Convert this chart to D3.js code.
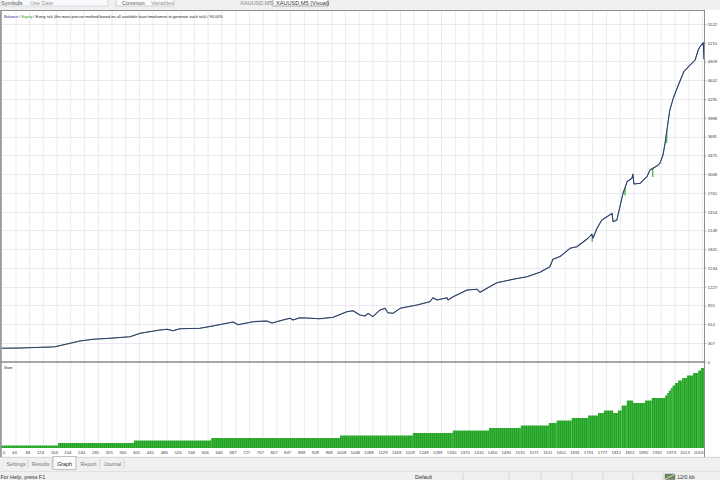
<!DOCTYPE html>
<html><head><meta charset="utf-8">
<script src="https://cdn.jsdelivr.net/npm/d3@7"></script>
<style>
body{margin:0;background:#fff;}
svg{display:block;font-family:"Liberation Sans",Arial,sans-serif;}
</style>
</head><body>
<svg id="c" width="720" height="480"></svg>
<script>
// ---------- DATA ----------
const totalTrades = 2057;
const tradeIdx = [0,56,144,158,231,269,319,378,407,465,486,503,524,582,620,679,694,737,778,793,825,846,854,875,933,972,1012,1030,1050,1065,1074,1088,1109,1124,1132,1147,1168,1217,1255,1264,1276,1305,1308,1323,1364,1393,1402,1422,1451,1498,1539,1577,1606,1615,1636,1665,1685,1715,1729,1732,1744,1758,1773,1788,1791,1802,1811,1820,1832,1846,1849,1852,1870,1890,1899,1919,1928,1937,1943,1957,1967,1982,1992,1998,2016,2031,2040,2045,2055,2057];
const balance = [219,224,240,244,338,366,383,409,464,518,530,507,540,546,584,649,605,654,665,633,682,710,682,719,703,726,818,834,764,747,791,736,845,873,801,791,873,927,981,1046,1009,1046,1009,1063,1172,1184,1135,1200,1292,1347,1390,1462,1553,1674,1720,1854,1880,2006,2088,2018,2181,2317,2371,2426,2289,2317,2534,2753,2943,2999,3069,2905,2917,3025,3134,3200,3244,3380,3571,4115,4307,4524,4660,4742,4851,4933,5096,5150,5216,4944];
// extra equity readings where equity departs from balance
const equityIdx = [1729.6,1730,1730.4,1825,1826,1827,1906,1907,1908,1947,1948,1949];
const equityVal = [2080,1960,2030,2832,2720,2864,3160,3020,3165,3727,3580,3804];
// lot size steps (start trade index, lot)
const sizeStepIdx = [0,167,389,615,992,1205,1322,1428,1521,1603,1626,1670,1718,1747,1764,1791,1805,1816,1831,1849,1884,1904,1943,1949,1954,1960,1965,1972,1981,1993,2007,2025,2040,2048];
const sizeStepLot = [0.01,0.02,0.03,0.04,0.05,0.06,0.07,0.08,0.09,0.10,0.11,0.12,0.13,0.14,0.15,0.14,0.15,0.17,0.19,0.18,0.19,0.20,0.21,0.22,0.23,0.24,0.25,0.26,0.27,0.28,0.29,0.30,0.31,0.32];
const yTickLabels = [0,307,614,920,1227,1534,1841,2148,2454,2761,3068,3375,3681,3988,4295,4602,4909,5215,5522];
const xTickLabels = [0,44,84,124,164,204,244,285,325,365,405,445,486,526,566,606,646,687,727,767,807,847,888,928,968,1008,1048,1088,1129,1169,1209,1249,1289,1330,1370,1410,1450,1490,1531,1571,1611,1651,1691,1731,1772,1812,1852,1892,1932,1973,2013,2053];
const titleParts = [["Balance","#2a2a9a"],[" / ","#222"],["Equity","#1f9a1f"],[" / Every tick (the most precise method based on all available least timeframes to generate each tick) / 90.00%","#222"]];
const tabNames = ["Settings","Results","Graph","Report","Journal"];

// ---------- LAYOUT ----------
const svg = d3.select("#c");
const L = 1.5, R = 704, T = 11, MID = 362, BOT = 448;
const x = d3.scaleLinear().domain([0, totalTrades]).range([0.96, 704]);
const y = d3.scaleLinear().domain([0, 5522]).range([361.7, 24.0]);
const yS = d3.scaleLinear().domain([0, 0.344]).range([BOT, MID]);

const defs = svg.append("defs");
defs.append("clipPath").attr("id","cu").append("rect").attr("x",L).attr("y",T).attr("width",R-L).attr("height",MID-T);
const pat = defs.append("pattern").attr("id","bp").attr("width",2).attr("height",10).attr("patternUnits","userSpaceOnUse");
pat.append("rect").attr("width",2).attr("height",10).attr("fill","#35b535");
pat.append("rect").attr("width",0.6).attr("height",10).attr("fill","#1e901e");

svg.append("rect").attr("width",720).attr("height",480).attr("fill","#fff");

// top strip (cropped UI)
const topG = svg.append("g");
topG.append("rect").attr("x",0).attr("y",0).attr("width",720).attr("height",10).attr("fill","#f0f0f0");
topG.append("rect").attr("x",0).attr("y",-2).attr("width",108).attr("height",8).attr("fill","#f7f9fc").attr("stroke","#c8c8c8").attr("stroke-width",0.6);
topG.append("rect").attr("x",116).attr("y",-2).attr("width",58).attr("height",8).attr("fill","#fafafa").attr("stroke","#b8b8b8").attr("stroke-width",0.6);
topG.append("rect").attr("x",273).attr("y",-3).attr("width",55).attr("height",9).attr("fill","#fff").attr("stroke","#8a8a8a").attr("stroke-width",0.7);
topG.append("line").attr("x1",18.5).attr("x2",18.5).attr("y1",0).attr("y2",6).attr("stroke","#aaa").attr("stroke-width",0.6);
const topTexts = [["Symbols",1,"#555"],["Use Date",30,"#999"],["Common",122,"#555"],["Variables",151,"#999"],["XAUUSD,M5",240,"#888"],["XAUUSD,M5 (Visual)",276,"#333"]];
topTexts.forEach(t=>topG.append("text").attr("x",t[1]).attr("y",4.6).attr("font-size",5.6).attr("fill",t[2]).text(t[0]));

// upper plot grid
const up = svg.append("g");
up.append("rect").attr("x",L).attr("y",T).attr("width",R-L).attr("height",MID-T).attr("fill","#fff");
up.selectAll("line.hg").data(yTickLabels.slice(1)).join("line").attr("class","hg")
  .attr("x1",L).attr("x2",R).attr("y1",d=>Math.round(y(d))+0.5).attr("y2",d=>Math.round(y(d))+0.5)
  .attr("stroke","#e4e4ec").attr("stroke-width",0.8);
up.selectAll("line.vg").data(xTickLabels.slice(1)).join("line").attr("class","vg")
  .attr("x1",d=>x(d)).attr("x2",d=>x(d)).attr("y1",T).attr("y2",MID)
  .attr("stroke","#e4e4ec").attr("stroke-width",0.8);

// lines
const balPts = tradeIdx.map((t,i)=>[t,balance[i]]);
const eqPts = balPts.concat(equityIdx.map((t,i)=>[t,equityVal[i]])).sort((a,b)=>a[0]-b[0]);
const line = d3.line().x(d=>x(d[0])).y(d=>y(d[1]));
const lg = svg.append("g").attr("clip-path","url(#cu)");
lg.append("path").attr("d",line(eqPts)).attr("fill","none").attr("stroke","#5fb35f").attr("stroke-width",1.0);
lg.append("path").attr("d",line(balPts)).attr("fill","none").attr("stroke","#333a78").attr("stroke-width",1.05).attr("stroke-linejoin","round");

// title (font sized to fit the reference width)
const tt = svg.append("text").attr("x",4).attr("y",17.5).attr("font-size",4.4);
titleParts.forEach(p=>tt.append("tspan").attr("fill",p[1]).text(p[0]));
const tw = tt.node().getComputedTextLength();
if (tw > 0) tt.attr("font-size", 4.4 * 219 / tw);

// lower plot
const lo = svg.append("g");
lo.selectAll("line.vg2").data(xTickLabels.slice(1)).join("line").attr("class","vg2")
  .attr("x1",d=>x(d)).attr("x2",d=>x(d)).attr("y1",MID).attr("y2",BOT)
  .attr("stroke","#e4e4ec").attr("stroke-width",0.8);
const steps = sizeStepIdx.map((t,i)=>({t0:t,t1:(i+1<sizeStepIdx.length?sizeStepIdx[i+1]:totalTrades),lot:sizeStepLot[i]}));
lo.selectAll("rect.bar").data(steps).join("rect").attr("class","bar")
  .attr("x",d=>x(d.t0)).attr("width",d=>x(d.t1)-x(d.t0)+0.05)
  .attr("y",d=>yS(d.lot)).attr("height",d=>BOT-yS(d.lot))
  .attr("fill","url(#bp)");
svg.append("text").attr("x",4).attr("y",368.5).attr("font-size",4.4).attr("fill","#222").text("Size");

// borders
svg.append("line").attr("x1",0).attr("x2",R).attr("y1",T-0.5).attr("y2",T-0.5).attr("stroke","#8e8e8e").attr("stroke-width",1);
svg.append("line").attr("x1",0).attr("x2",R).attr("y1",MID).attr("y2",MID).attr("stroke","#8a8a8a").attr("stroke-width",1.3);
svg.append("line").attr("x1",R+0.5).attr("x2",R+0.5).attr("y1",T-1).attr("y2",457).attr("stroke","#8e8e8e").attr("stroke-width",1);
svg.append("line").attr("x1",0.9).attr("x2",0.9).attr("y1",T-1).attr("y2",457).attr("stroke","#9a9a9a").attr("stroke-width",1.8);

// y axis
const ya = svg.append("g").attr("transform",`translate(${R+0.5},0)`)
  .call(d3.axisRight(y).tickValues(yTickLabels).tickSize(2).tickPadding(1.2).tickFormat(d=>String(d)));
ya.select(".domain").remove();
ya.selectAll("line").attr("stroke","#888").attr("stroke-width",0.6);
ya.selectAll("text").attr("font-size",4.3).attr("fill","#444").attr("font-family","Liberation Sans, Arial, sans-serif");

// x axis
const xa = svg.append("g").attr("transform",`translate(0,${BOT+1.5})`)
  .call(d3.axisBottom(x).tickValues(xTickLabels).tickSize(0).tickPadding(1.8).tickFormat(d=>String(d)));
xa.select(".domain").remove();
xa.selectAll("text").attr("font-size",4.3).attr("fill","#444").attr("font-family","Liberation Sans, Arial, sans-serif")
  .attr("text-anchor",d=>d===0?"start":"end").attr("x",d=>d===0?1.2:0.3);

// bottom tabs
const tb = svg.append("g");
tb.append("rect").attr("x",0).attr("y",457).attr("width",720).attr("height",23).attr("fill","#f0f0f0");
tb.append("line").attr("x1",0).attr("x2",720).attr("y1",457.3).attr("y2",457.3).attr("stroke","#bdbdbd").attr("stroke-width",0.6);
const tabX = [4,29,53,77,101];
const tabW = [24,23,23,23,23];
tabNames.forEach((n,i)=>{
  if(n==="Graph"){
    tb.append("rect").attr("x",tabX[i]).attr("y",456.5).attr("width",tabW[i]).attr("height",13).attr("fill","#fbfbfb").attr("stroke","#9a9a9a").attr("stroke-width",0.6);
  } else {
    tb.append("line").attr("x1",tabX[i]+tabW[i]).attr("x2",tabX[i]+tabW[i]).attr("y1",459).attr("y2",468.5).attr("stroke","#c4c4c4").attr("stroke-width",0.6);
  }
  tb.append("text").attr("x",tabX[i]+tabW[i]/2).attr("y",465.8).attr("text-anchor","middle")
    .attr("font-size",5.3).attr("fill",n==="Graph"?"#222":"#777").text(n);
});
// status bar
tb.append("line").attr("x1",0).attr("x2",720).attr("y1",471.5).attr("y2",471.5).attr("stroke","#d6d6d6").attr("stroke-width",0.6);
tb.append("text").attr("x",0.5).attr("y",478.5).attr("font-size",5.4).attr("fill","#333").text("For Help, press F1");
tb.append("text").attr("x",415).attr("y",478.5).attr("font-size",5.4).attr("fill","#333").text("Default");
[463,509,541,572,603,633,663].forEach(sx=>tb.append("line").attr("x1",sx).attr("x2",sx).attr("y1",473).attr("y2",480).attr("stroke","#c8c8c8").attr("stroke-width",0.7));
tb.append("rect").attr("x",665).attr("y",474).attr("width",10).attr("height",5.5).attr("fill","#6a8a5a").attr("stroke","#556").attr("stroke-width",0.4);
tb.append("path").attr("d","M665,479.5 L675,474").attr("stroke","#e8f0e0").attr("stroke-width",0.8);
tb.append("text").attr("x",677).attr("y",478.5).attr("font-size",5.4).attr("fill","#333").text("12/0 kb");
</script>
</body></html>
